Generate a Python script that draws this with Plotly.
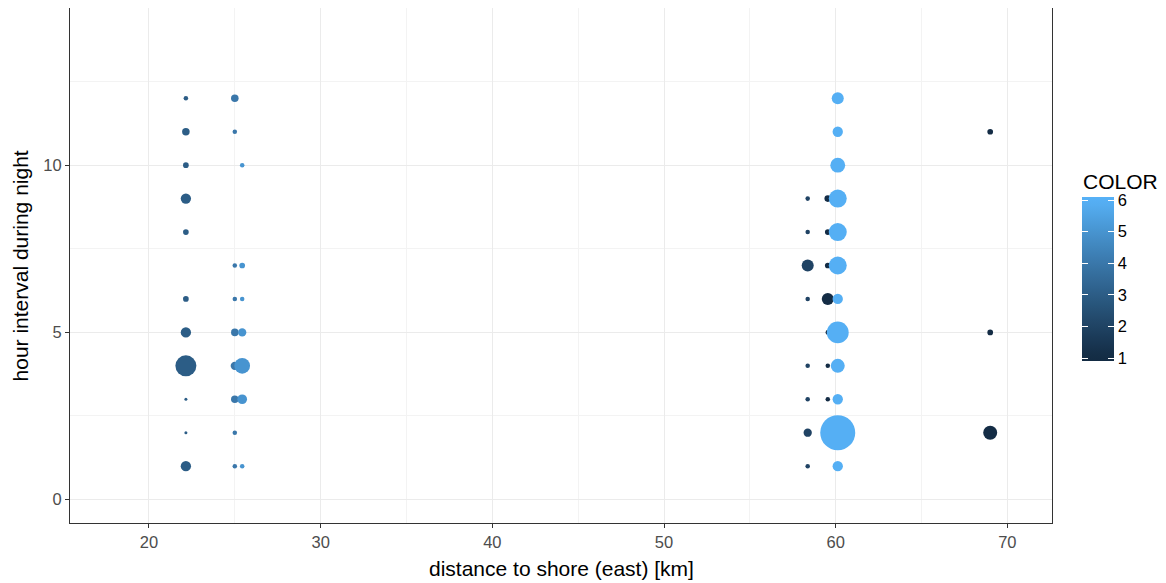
import numpy as np
import plotly.graph_objects as go

# ---------------- data ----------------
distance_km = ([22.15] * 11 + [25.0] * 9 + [25.43] * 7 + [58.37] * 8 +
               [59.54] * 7 + [60.12] * 12 + [69.0] * 3)
hour_interval = [12, 11, 10, 9, 8, 6, 5, 4, 3, 2, 1,
                 12, 11, 7, 6, 5, 4, 3, 2, 1,
                 10, 7, 6, 5, 4, 3, 1,
                 9, 8, 7, 6, 4, 3, 2, 1,
                 9, 8, 7, 6, 5, 4, 3,
                 12, 11, 10, 9, 8, 7, 6, 5, 4, 3, 2, 1,
                 11, 5, 2]
count = [2, 5, 3, 9, 3, 3, 9, 35, 1, 1, 9,
         5, 2, 2, 2, 5, 6, 5, 2, 2,
         2, 3, 2, 6, 20, 8, 2,
         2, 2, 12, 2, 2, 2, 6, 2,
         4, 3, 3, 12, 2, 2, 2,
         12, 9, 18, 26, 26, 26, 9, 38, 16, 9, 95, 9,
         3, 3, 16]
color_value = ([3] * 11 + [4] * 9 + [5] * 7 + [2] * 8 + [1] * 7 + [6] * 12 + [1] * 3)

x_ticks = [20, 30, 40, 50, 60, 70]
y_ticks = [0, 5, 10]
legend_ticks = [1, 2, 3, 4, 5, 6]

# ---------------- helpers: ggplot-like scales ----------------
def srgb_to_lab(hexc):
    r, g, b = [int(hexc[i:i + 2], 16) / 255 for i in (1, 3, 5)]
    def lin(c):
        return c / 12.92 if c <= 0.04045 else ((c + 0.055) / 1.055) ** 2.4
    r, g, b = lin(r), lin(g), lin(b)
    X = (0.4124 * r + 0.3576 * g + 0.1805 * b) / 0.95047
    Y = (0.2126 * r + 0.7152 * g + 0.0722 * b) / 1.0
    Z = (0.0193 * r + 0.1192 * g + 0.9505 * b) / 1.08883
    def f(t):
        return t ** (1 / 3) if t > 0.008856 else 7.787 * t + 16 / 116
    fx, fy, fz = f(X), f(Y), f(Z)
    return (116 * fy - 16, 500 * (fx - fy), 200 * (fy - fz))

def lab_to_hex(L, a, b):
    fy = (L + 16) / 116
    fx = fy + a / 500
    fz = fy - b / 200
    def finv(t):
        return t ** 3 if t ** 3 > 0.008856 else (t - 16 / 116) / 7.787
    X, Y, Z = finv(fx) * 0.95047, finv(fy), finv(fz) * 1.08883
    r = 3.2406 * X - 1.5372 * Y - 0.4986 * Z
    g = -0.9689 * X + 1.8758 * Y + 0.0415 * Z
    bb = 0.0557 * X - 0.2040 * Y + 1.0570 * Z
    def gam(c):
        c = c * 12.92 if c <= 0.0031308 else 1.055 * c ** (1 / 2.4) - 0.055
        return int(round(min(max(c, 0), 1) * 255))
    return "#%02x%02x%02x" % (gam(r), gam(g), gam(bb))

LOW, HIGH = "#132B43", "#56B1F7"
lab_lo, lab_hi = srgb_to_lab(LOW), srgb_to_lab(HIGH)
vmin, vmax = min(color_value), max(color_value)
pad = 0.095 * (vmax - vmin) / 5
cmin, cmax = vmin - pad, vmax + pad

colorscale = []
for p in np.linspace(0, 1, 21):
    v = cmin + p * (cmax - cmin)
    t = min(max((v - vmin) / (vmax - vmin), 0), 1)
    lab = [lab_lo[k] + t * (lab_hi[k] - lab_lo[k]) for k in range(3)]
    colorscale.append([float(p), lab_to_hex(*lab)])

# size scale (area proportional, like scale_size)
d_min, d_max = 3.0, 35.0
n = np.array(count, dtype=float)
sq = np.sqrt(n)
diam = d_min + (d_max - d_min) * (sq - sq.min()) / (sq.max() - sq.min())

# ---------------- geometry (page pixels; page has an 8px body margin) ----------------
OFF = 8
PAGE_W, PAGE_H = 1166, 583
W, H = PAGE_W - OFF, PAGE_H - OFF
P_LEFT, P_RIGHT, P_TOP, P_BOTTOM = 70, 1051.6, 8, 523   # panel in page px
ML = P_LEFT - OFF
MT = P_TOP - OFF
MR = W - (P_RIGHT - OFF)
MB = H - (P_BOTTOM - OFF)
pw, ph = P_RIGHT - P_LEFT, P_BOTTOM - P_TOP

def px_x(x):
    return (x - P_LEFT) / pw

def px_y(y):
    return (P_BOTTOM - y) / ph

FONT = "Liberation Sans, Arial"
TICK_SIZE = 16.5
TITLE_SIZE = 21
BAR_LEFT, BAR_W, BAR_LEN, BAR_MID = 1082, 32, 164, 279
TICK_L = 6

fig = go.Figure()
fig.add_trace(go.Scatter(
    x=distance_km, y=hour_interval, mode="markers",
    marker=dict(size=diam, sizemode="diameter", color=color_value,
                colorscale=colorscale, cmin=cmin, cmax=cmax,
                line=dict(width=0), opacity=1,
                colorbar=dict(
                    x=px_x(BAR_LEFT), xanchor="left",
                    y=px_y(BAR_MID), yanchor="middle",
                    thickness=BAR_W, lenmode="pixels", len=BAR_LEN,
                    xpad=0, ypad=0, outlinewidth=0,
                    tickvals=legend_ticks, ticks="inside",
                    tickcolor="white", ticklen=TICK_L, tickwidth=1,
                    tickfont=dict(family=FONT, size=TICK_SIZE, color="#000000"),
                )),
    hoverinfo="skip", showlegend=False,
))

# transparent companion bar: draws the white ticks on the left edge of the legend bar
fig.add_trace(go.Scatter(
    x=[distance_km[0]], y=[hour_interval[0]], mode="markers",
    marker=dict(size=0.1, opacity=0, color=[color_value[0]],
                colorscale=[[0, "rgba(0,0,0,0)"], [1, "rgba(0,0,0,0)"]],
                cmin=cmin, cmax=cmax, showscale=True,
                colorbar=dict(
                    x=px_x(BAR_LEFT), xanchor="left",
                    y=px_y(BAR_MID), yanchor="middle",
                    thickness=TICK_L, lenmode="pixels", len=BAR_LEN,
                    xpad=0, ypad=0, outlinewidth=0,
                    tickvals=legend_ticks, ticks="inside", showticklabels=False,
                    tickcolor="white", ticklen=TICK_L, tickwidth=1,
                )),
    hoverinfo="skip", showlegend=False,
))

axis_common = dict(
    ticks="outside", ticklen=4, tickwidth=1, tickcolor="#333333",
    showline=True, mirror=True, linecolor="#333333", linewidth=1,
    showgrid=True, gridcolor="#EBEBEB", gridwidth=1, zeroline=False,
    tickfont=dict(family=FONT, size=TICK_SIZE, color="#4D4D4D"),
)
fig.update_xaxes(range=[15.4, 72.6], tickvals=x_ticks,
                 minor=dict(dtick=5, tick0=0, showgrid=True, gridcolor="#F3F3F3", gridwidth=1, ticks=""),
                 **axis_common)
fig.update_yaxes(range=[-0.7, 14.7], tickvals=y_ticks,
                 minor=dict(dtick=2.5, tick0=0, showgrid=True, gridcolor="#F3F3F3", gridwidth=1, ticks=""),
                 **axis_common)

title_font = dict(family=FONT, size=TITLE_SIZE, color="#000000")
fig.add_annotation(text="distance to shore (east) [km]", xref="paper", yref="paper",
                   x=0.5, y=px_y(568), xanchor="center", yanchor="middle",
                   showarrow=False, font=title_font)
fig.add_annotation(text="hour interval during night", xref="paper", yref="paper",
                   x=px_x(21), y=0.5, xanchor="center", yanchor="middle",
                   textangle=-90, showarrow=False, font=title_font)
fig.add_annotation(text="COLOR", xref="paper", yref="paper",
                   x=px_x(1081), y=px_y(181), xanchor="left", yanchor="middle",
                   showarrow=False, font=dict(family=FONT, size=TITLE_SIZE, color="#000000"))

fig.update_layout(width=W, height=H, autosize=False,
                  margin=dict(l=ML, r=MR, t=MT, b=MB),
                  paper_bgcolor="white", plot_bgcolor="white")

fig.write_html("out.html")
